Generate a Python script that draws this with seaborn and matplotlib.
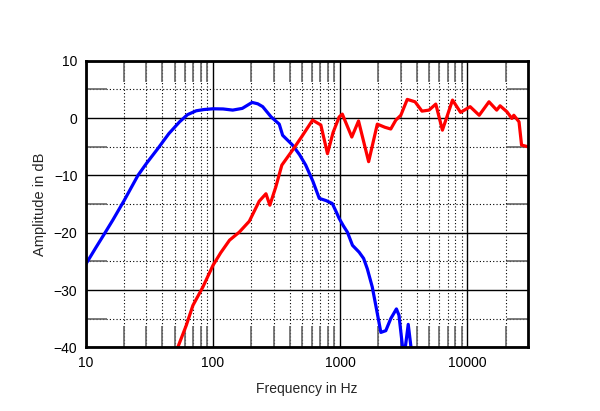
import numpy as np
import pandas as pd
import matplotlib
matplotlib.use('Agg')
import matplotlib.pyplot as plt
import seaborn as sns
from matplotlib.ticker import FixedLocator, FixedFormatter, NullFormatter

# Woofer (blue) response
woofer_freq = [10, 12, 14, 16.3, 20, 25.7, 30, 36.9, 45, 54.6, 63, 73.8, 85, 100, 120, 143, 170, 203, 225,
               246, 286, 332, 353, 422, 480, 536, 610, 685, 776, 867, 920, 982, 1060, 1140, 1250, 1410,
               1530, 1635, 1790, 1960, 2090, 2285, 2500, 2770, 2900, 3170, 3430, 3700]
woofer_db = [-25.5, -22.6, -20.2, -17.8, -14.4, -10.0, -7.9, -5.3, -2.7, -0.65, 0.6, 1.28, 1.5, 1.63, 1.6, 1.4, 1.7, 2.74, 2.5,
             2.0, 0.23, -1.05, -3.0, -4.7, -6.4, -8.2, -11.0, -14.0, -14.4, -14.9, -16.1, -17.5, -18.8, -19.9, -22.2, -23.4,
             -24.5, -26.3, -29.5, -34.1, -37.4, -37.1, -35.0, -33.3, -34.4, -42.0, -36.0, -42.0]

# Tweeter (red) response
tweeter_freq = [50, 52.9, 61.6, 69.5, 83.2, 100, 115, 135, 161, 193, 231, 261, 280, 312, 348, 422, 500, 607,
                705, 795, 880, 982, 1040, 1235, 1395, 1675, 1960, 2250, 2500, 2740, 3000, 3370, 3880, 4400,
                5000, 5650, 6370, 7650, 8850, 10520, 12400, 14800, 17020, 18100, 20500, 22400, 23200, 25500,
                26700, 30000]
tweeter_db = [-41.0, -40.0, -36.2, -32.7, -29.5, -25.7, -23.5, -21.3, -19.9, -18.0, -14.5, -13.2, -15.2, -12.0, -8.2, -5.6, -3.2, -0.35,
              -1.2, -6.2, -2.5, 0.2, 0.7, -3.3, -0.5, -7.6, -1.05, -1.6, -1.9, -0.35, 0.5, 3.27, 2.85, 1.22,
              1.4, 2.45, -2.1, 3.15, 1.0, 2.0, 0.5, 2.85, 1.4, 2.15, 1.1, -0.06, 0.5, -0.65,
              -4.7, -5.0]

woofer = pd.DataFrame({'freq': woofer_freq, 'db': woofer_db})
tweeter = pd.DataFrame({'freq': tweeter_freq, 'db': tweeter_db})

sns.set_style('white')
plt.rcParams['font.family'] = ['Liberation Sans', 'DejaVu Sans']

fig, ax = plt.subplots(figsize=(6, 4.11), dpi=100)
fig.subplots_adjust(left=0.143, right=0.88, top=0.852, bottom=0.155)

sns.lineplot(data=woofer, x='freq', y='db', color='#0000ff', lw=2.3, ax=ax)
sns.lineplot(data=tweeter, x='freq', y='db', color='#ff0000', lw=2.3, ax=ax)

ax.set_xscale('log')
ax.set_xlim(10, 30000)
ax.set_ylim(-40, 10)

major_x = [10, 100, 1000, 10000]
minor_x = [m * d for d in [10, 100, 1000] for m in range(2, 10)] + [20000]
ax.xaxis.set_major_locator(FixedLocator(major_x))
ax.xaxis.set_major_formatter(FixedFormatter([str(v) for v in major_x]))
ax.xaxis.set_minor_locator(FixedLocator(minor_x))
ax.xaxis.set_minor_formatter(NullFormatter())
ax.set_yticks([10, 0, -10, -20, -30, -40])
ax.set_yticks([5, -5, -15, -25, -35], minor=True)

ax.grid(which='major', color='black', lw=1.0, linestyle='-')
ax.grid(which='minor', color='black', lw=0.8, linestyle=(0, (1, 2)))
ax.tick_params(which='major', length=0, labelsize=10, pad=6, colors='black')
ax.tick_params(which='minor', direction='in', length=15, width=1.2, color='#666666',
               top=True, right=True, bottom=True, left=True)

for s in ax.spines.values():
    s.set_linewidth(2)
    s.set_color('black')

ax.set_xlabel('Frequency in Hz', fontsize=10, labelpad=9)
ax.set_ylabel('Amplitude in dB', fontsize=10.5, labelpad=5)

fig.savefig('out.png', dpi=100)
